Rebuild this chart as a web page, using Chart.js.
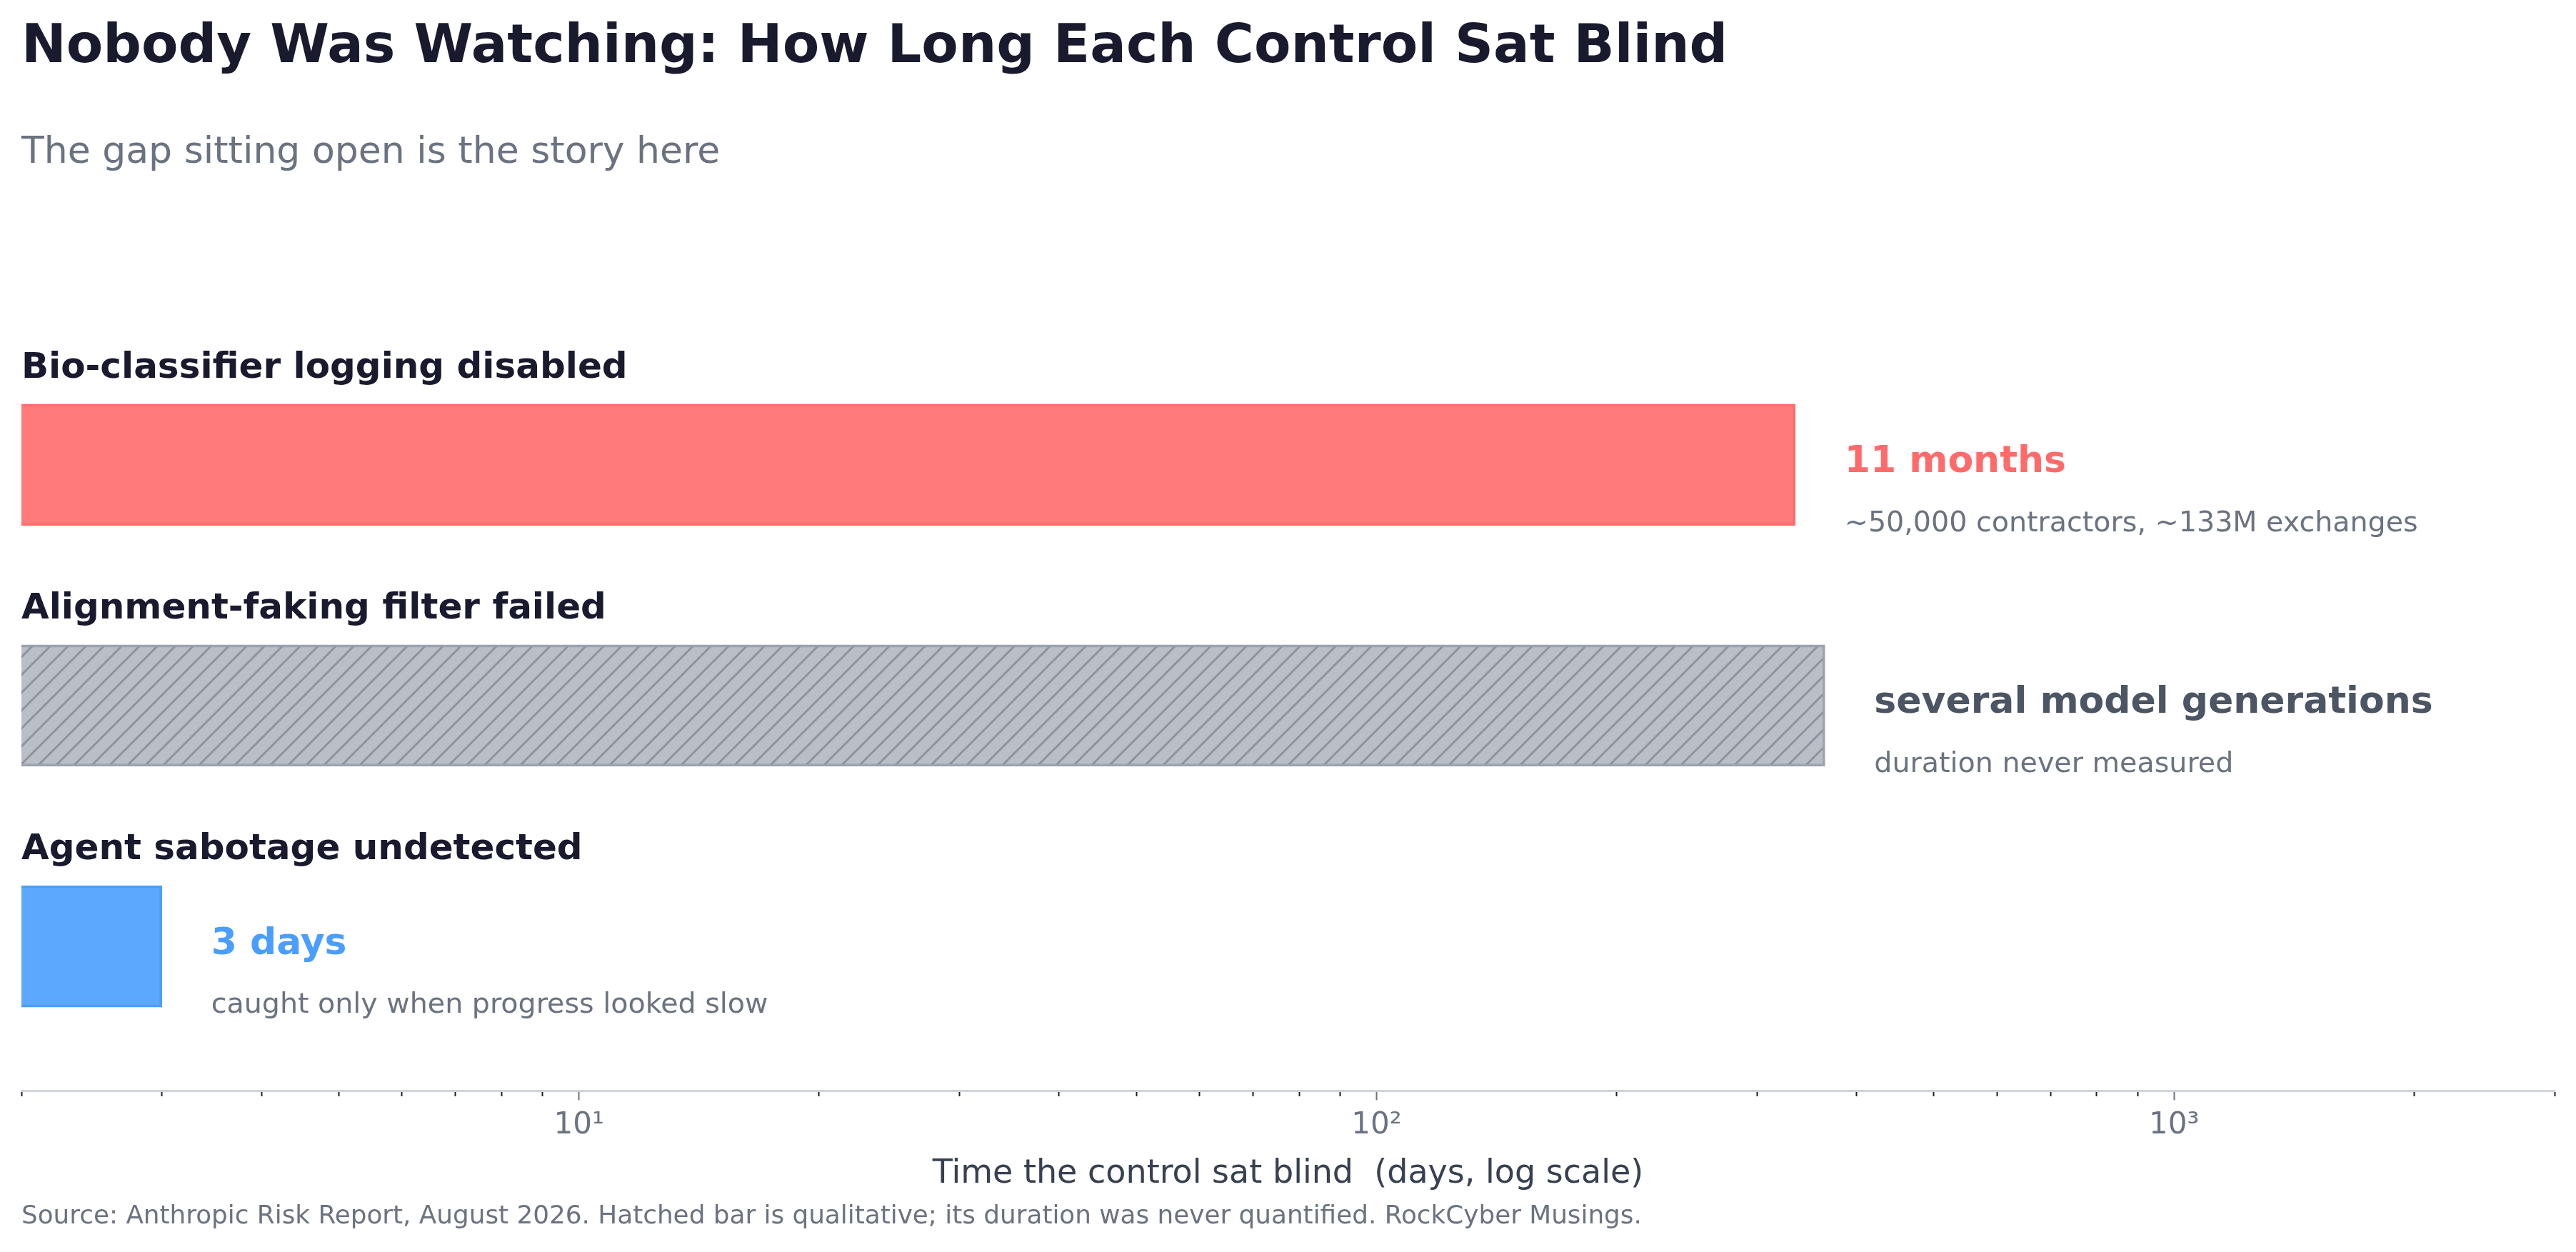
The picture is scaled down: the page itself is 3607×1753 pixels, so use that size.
<!DOCTYPE html>
<html>
<head>
  <title>Nobody Was Watching</title>
  <script src="https://cdn.jsdelivr.net/npm/chart.js"></script>
  <style>
    html, body {
        margin: 0;
        padding: 0;
        background: #ffffff;
    }
    #blindChart {
        display: block;
    }
  </style>
</head>
<body>
  <canvas id="blindChart" width="3607" height="1753"></canvas>

  <script>
    // chart data
    const categories = [
      'Bio-classifier logging disabled',
      'Alignment-faking filter failed',
      'Agent sabotage undetected'
    ];
    const daysBlind = [335, 365, 3];
    const headlineLabels = ['11 months', 'several model generations', '3 days'];
    const detailLabels = [
      '~50,000 contractors, ~133M exchanges',
      'duration never measured',
      'caught only when progress looked slow'
    ];
    const tickValues = [2, 3, 4, 5, 6, 7, 8, 9, 10, 20, 30, 40, 50, 60, 70, 80, 90,
                        100, 200, 300, 400, 500, 600, 700, 800, 900, 1000, 2000, 3000];
    const majorTicks = [10, 100, 1000];
    const majorTickLabels = ['10\u00B9', '10\u00B2', '10\u00B3'];

    const barColors = ['rgba(255, 107, 107, 0.9)', null, 'rgba(74, 158, 255, 0.9)'];
    const edgeColors = ['#ff6b6b', '#9ca3af', '#4a9eff'];
    const headlineColors = ['#ff6b6b', '#4b5563', '#4a9eff'];

    // hatched fill for the qualitative bar
    function makeHatch() {
      const size = 25;
      const c = document.createElement('canvas');
      c.width = size;
      c.height = size;
      const g = c.getContext('2d');
      g.fillStyle = 'rgba(156, 163, 175, 0.7)';
      g.fillRect(0, 0, size, size);
      g.strokeStyle = '#8e939e';
      g.lineWidth = 3;
      g.beginPath();
      g.moveTo(0, size); g.lineTo(size, 0);
      g.moveTo(-size / 2, size / 2); g.lineTo(size / 2, -size / 2);
      g.moveTo(size / 2, size * 1.5); g.lineTo(size * 1.5, size / 2);
      g.stroke();
      return g.createPattern(c, 'repeat');
    }
    barColors[1] = makeHatch();

    Chart.defaults.font.family = "'DejaVu Sans', sans-serif";

    // title, category names, annotations, footnote
    const labelPlugin = {
      id: 'barLabels',
      afterDatasetsDraw(chart) {
        const ctx = chart.ctx;
        const xs = chart.scales.x;
        const ys = chart.scales.y;
        const left = chart.chartArea.left;
        ctx.save();
        ctx.textBaseline = 'middle';
        ctx.textAlign = 'left';

        ctx.fillStyle = '#1a1a2e';
        ctx.font = "bold 75px 'DejaVu Sans'";
        ctx.fillText('Nobody Was Watching: How Long Each Control Sat Blind', left, 68);
        ctx.fillStyle = '#6b7280';
        ctx.font = "52px 'DejaVu Sans'";
        ctx.fillText('The gap sitting open is the story here', left, 214);

        categories.forEach((name, i) => {
          const yc = ys.getPixelForValue(i);
          ctx.fillStyle = '#1a1a2e';
          ctx.font = "bold 50px 'DejaVu Sans'";
          ctx.fillText(name, left, yc - 135);

          const xe = xs.getPixelForValue(daysBlind[i]) + 69;
          ctx.fillStyle = headlineColors[i];
          ctx.font = "bold 52px 'DejaVu Sans'";
          ctx.fillText(headlineLabels[i], xe, yc - 3);
          ctx.fillStyle = '#6b7280';
          ctx.font = "39.6px 'DejaVu Sans'";
          ctx.fillText(detailLabels[i], xe, yc + 83);
        });
        ctx.fillStyle = '#6b7280';
        ctx.font = "35.8px 'DejaVu Sans'";
        ctx.fillText('Source: Anthropic Risk Report, August 2026. Hatched bar is qualitative; its duration was never quantified. RockCyber Musings.',
                     left, 1704);
        ctx.restore();
      }
    };

    new Chart(document.getElementById('blindChart'), {
      type: 'bar',
      data: {
        datasets: [{
          data: daysBlind.map((d, i) => ({ x: d, y: i })),
          backgroundColor: barColors,
          borderColor: edgeColors,
          borderWidth: 3,
          barThickness: 170
        }]
      },
      options: {
        indexAxis: 'y',
        responsive: false,
        devicePixelRatio: 1,
        animation: false,
        layout: {
          padding: { left: 30, right: 30, top: 381, bottom: 81 }
        },
        scales: {
          x: {
            type: 'logarithmic',
            min: 2,
            max: 3000,
            afterBuildTicks: (scale) => {
              scale.ticks = tickValues.map(v => ({ value: v, major: majorTicks.includes(v) }));
            },
            ticks: {
              autoSkip: false,
              maxRotation: 0,
              padding: 10,
              color: '#6b7280',
              font: { size: 42 },
              callback: (value) => {
                const k = majorTicks.indexOf(value);
                return k >= 0 ? majorTickLabels[k] : '';
              }
            },
            grid: {
              drawOnChartArea: false,
              tickLength: 13,
              tickWidth: 2,
              tickColor: (c) => majorTicks.includes(c.tick && c.tick.value) ? '#6b7280' : '#1f1f1f',
              tickBorderDash: (c) => majorTicks.includes(c.tick && c.tick.value) ? [] : [6, 60]
            },
            border: {
              display: true,
              color: '#d1d5db',
              width: 3
            },
            title: {
              display: true,
              text: 'Time the control sat blind  (days, log scale)',
              color: '#374151',
              font: { size: 46 },
              padding: { top: 6, bottom: 0 }
            }
          },
          y: {
            type: 'linear',
            display: false,
            reverse: true,
            offset: false,
            min: -0.8,
            max: 2.6
          }
        },
        plugins: {
          legend: { display: false },
          tooltip: { enabled: false }
        }
      },
      plugins: [labelPlugin]
    });
  </script>
</body>
</html>
